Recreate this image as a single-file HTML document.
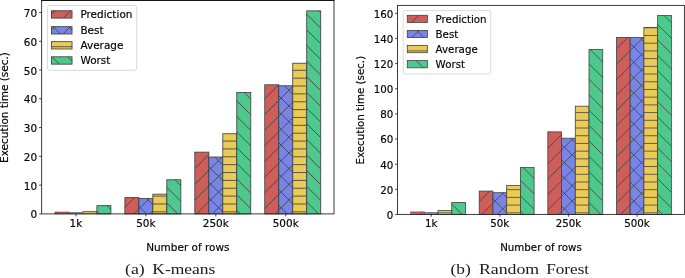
<!DOCTYPE html>
<html lang="en">
<head>
<meta charset="utf-8">
<title>Execution time: K-means and Random Forest</title>
<style>
html,body{margin:0;padding:0;background:#ffffff;}
body{width:685px;height:278px;overflow:hidden;}
svg{display:block;will-change:transform;}
</style>
</head>
<body>
<svg width="685" height="278" viewBox="0 0 685 278">
<rect x="0" y="0" width="685" height="278" fill="#ffffff"/>
<!-- (a) K-means -->
<g>
<rect x="54.94" y="212" width="13.99" height="1.9" fill="#cd5e59"/>
<path d="M55.59 213.9L57.49 212" fill="none" stroke="#3f3f3f" stroke-width="0.5"/>
<rect x="54.94" y="212" width="13.99" height="1.9" fill="none" stroke="#3f3f3f" stroke-width="0.5"/>
<rect x="68.93" y="212.58" width="13.99" height="1.32" fill="#7985e6"/>
<path d="M71.26 213.9L72.58 212.58M82.58 212.58L82.91 212.91" fill="none" stroke="#3f3f3f" stroke-width="0.5"/>
<rect x="68.93" y="212.58" width="13.99" height="1.32" fill="none" stroke="#3f3f3f" stroke-width="0.5"/>
<rect x="82.91" y="211.17" width="13.99" height="2.73" fill="#ebcb58"/>
<path d="M82.91 211.85L96.9 211.85" fill="none" stroke="#3f3f3f" stroke-width="0.5"/>
<rect x="82.91" y="211.17" width="13.99" height="2.73" fill="none" stroke="#3f3f3f" stroke-width="0.5"/>
<rect x="96.9" y="205.67" width="13.99" height="8.23" fill="#4ec88c"/>
<path d="M106.97 205.67L110.89 209.59M96.9 211.25L99.55 213.9" fill="none" stroke="#3f3f3f" stroke-width="0.84"/>
<rect x="96.9" y="205.67" width="13.99" height="8.23" fill="none" stroke="#3f3f3f" stroke-width="0.84"/>
<rect x="124.88" y="197.61" width="13.99" height="16.29" fill="#cd5e59"/>
<path d="M124.88 207.29L134.56 197.61M133.94 213.9L138.87 208.97" fill="none" stroke="#3f3f3f" stroke-width="0.84"/>
<rect x="124.88" y="197.61" width="13.99" height="16.29" fill="none" stroke="#3f3f3f" stroke-width="0.84"/>
<rect x="138.87" y="198.47" width="13.99" height="15.43" fill="#7985e6"/>
<path d="M138.87 208.97L149.37 198.47M149.61 213.9L152.85 210.66M146.72 198.47L152.85 204.6M138.87 206.27L146.5 213.9" fill="none" stroke="#3f3f3f" stroke-width="0.84"/>
<rect x="138.87" y="198.47" width="13.99" height="15.43" fill="none" stroke="#3f3f3f" stroke-width="0.84"/>
<rect x="152.85" y="194.16" width="13.99" height="19.74" fill="#ebcb58"/>
<path d="M152.85 196.12L166.84 196.12M152.85 203.99L166.84 203.99M152.85 211.85L166.84 211.85" fill="none" stroke="#3f3f3f" stroke-width="0.84"/>
<rect x="152.85" y="194.16" width="13.99" height="19.74" fill="none" stroke="#3f3f3f" stroke-width="0.84"/>
<rect x="166.84" y="179.77" width="13.99" height="34.13" fill="#4ec88c"/>
<path d="M174.97 179.77L180.83 185.63M166.84 187.29L180.83 201.28M166.84 202.94L177.8 213.9" fill="none" stroke="#3f3f3f" stroke-width="0.84"/>
<rect x="166.84" y="179.77" width="13.99" height="34.13" fill="none" stroke="#3f3f3f" stroke-width="0.84"/>
<rect x="194.82" y="152.14" width="13.99" height="61.76" fill="#cd5e59"/>
<path d="M194.82 153.02L195.7 152.14M194.82 168.69L208.81 154.7M194.82 184.36L208.81 170.37M194.82 200.03L208.81 186.04M196.62 213.9L208.81 201.71" fill="none" stroke="#3f3f3f" stroke-width="0.84"/>
<rect x="194.82" y="152.14" width="13.99" height="61.76" fill="none" stroke="#3f3f3f" stroke-width="0.84"/>
<rect x="208.81" y="157.03" width="13.99" height="56.87" fill="#7985e6"/>
<path d="M208.81 170.37L222.15 157.03M208.81 186.04L222.8 172.05M208.81 201.71L222.8 187.72M212.29 213.9L222.8 203.39M214.83 157.03L222.8 165M208.81 166.66L222.8 180.65M208.81 182.31L222.8 196.3M208.81 197.96L222.8 211.95M208.81 213.61L209.1 213.9" fill="none" stroke="#3f3f3f" stroke-width="0.84"/>
<rect x="208.81" y="157.03" width="13.99" height="56.87" fill="none" stroke="#3f3f3f" stroke-width="0.84"/>
<rect x="222.8" y="133.72" width="13.99" height="80.18" fill="#ebcb58"/>
<path d="M222.8 141.08L236.78 141.08M222.8 148.94L236.78 148.94M222.8 156.8L236.78 156.8M222.8 164.67L236.78 164.67M222.8 172.53L236.78 172.53M222.8 180.4L236.78 180.4M222.8 188.26L236.78 188.26M222.8 196.12L236.78 196.12M222.8 203.99L236.78 203.99M222.8 211.85L236.78 211.85" fill="none" stroke="#3f3f3f" stroke-width="0.84"/>
<rect x="222.8" y="133.72" width="13.99" height="80.18" fill="none" stroke="#3f3f3f" stroke-width="0.84"/>
<rect x="236.78" y="92.57" width="13.99" height="121.33" fill="#4ec88c"/>
<path d="M244.27 92.57L250.77 99.07M236.78 100.73L250.77 114.72M236.78 116.38L250.77 130.37M236.78 132.03L250.77 146.02M236.78 147.68L250.77 161.67M236.78 163.33L250.77 177.32M236.78 178.98L250.77 192.97M236.78 194.63L250.77 208.62M236.78 210.28L240.4 213.9" fill="none" stroke="#3f3f3f" stroke-width="0.84"/>
<rect x="236.78" y="92.57" width="13.99" height="121.33" fill="none" stroke="#3f3f3f" stroke-width="0.84"/>
<rect x="264.76" y="84.8" width="13.99" height="129.1" fill="#cd5e59"/>
<path d="M264.76 98.75L278.71 84.8M264.76 114.42L278.75 100.43M264.76 130.09L278.75 116.1M264.76 145.76L278.75 131.77M264.76 161.43L278.75 147.44M264.76 177.1L278.75 163.11M264.76 192.77L278.75 178.78M264.76 208.44L278.75 194.45M274.97 213.9L278.75 210.12" fill="none" stroke="#3f3f3f" stroke-width="0.84"/>
<rect x="264.76" y="84.8" width="13.99" height="129.1" fill="none" stroke="#3f3f3f" stroke-width="0.84"/>
<rect x="278.75" y="85.78" width="13.99" height="128.12" fill="#7985e6"/>
<path d="M278.75 100.43L292.74 86.44M278.75 116.1L292.74 102.11M278.75 131.77L292.74 117.78M278.75 147.44L292.74 133.45M278.75 163.11L292.74 149.12M278.75 178.78L292.74 164.79M278.75 194.45L292.74 180.46M278.75 210.12L292.74 196.13M290.64 213.9L292.74 211.8M284.43 85.78L292.74 94.09M278.75 95.75L292.74 109.74M278.75 111.4L292.74 125.39M278.75 127.05L292.74 141.04M278.75 142.7L292.74 156.69M278.75 158.35L292.74 172.34M278.75 174L292.74 187.99M278.75 189.65L292.74 203.64M278.75 205.3L287.35 213.9" fill="none" stroke="#3f3f3f" stroke-width="0.84"/>
<rect x="278.75" y="85.78" width="13.99" height="128.12" fill="none" stroke="#3f3f3f" stroke-width="0.84"/>
<rect x="292.74" y="63.22" width="13.99" height="150.68" fill="#ebcb58"/>
<path d="M292.74 70.3L306.72 70.3M292.74 78.16L306.72 78.16M292.74 86.03L306.72 86.03M292.74 93.89L306.72 93.89M292.74 101.76L306.72 101.76M292.74 109.62L306.72 109.62M292.74 117.48L306.72 117.48M292.74 125.35L306.72 125.35M292.74 133.21L306.72 133.21M292.74 141.08L306.72 141.08M292.74 148.94L306.72 148.94M292.74 156.8L306.72 156.8M292.74 164.67L306.72 164.67M292.74 172.53L306.72 172.53M292.74 180.4L306.72 180.4M292.74 188.26L306.72 188.26M292.74 196.12L306.72 196.12M292.74 203.99L306.72 203.99M292.74 211.85L306.72 211.85" fill="none" stroke="#3f3f3f" stroke-width="0.84"/>
<rect x="292.74" y="63.22" width="13.99" height="150.68" fill="none" stroke="#3f3f3f" stroke-width="0.84"/>
<rect x="306.72" y="10.85" width="13.99" height="203.05" fill="#4ec88c"/>
<path d="M319.05 10.85L320.71 12.51M306.72 14.17L320.71 28.16M306.72 29.82L320.71 43.81M306.72 45.47L320.71 59.46M306.72 61.12L320.71 75.11M306.72 76.77L320.71 90.76M306.72 92.42L320.71 106.41M306.72 108.07L320.71 122.06M306.72 123.72L320.71 137.71M306.72 139.37L320.71 153.36M306.72 155.02L320.71 169.01M306.72 170.67L320.71 184.66M306.72 186.32L320.71 200.31M306.72 201.97L318.65 213.9" fill="none" stroke="#3f3f3f" stroke-width="0.84"/>
<rect x="306.72" y="10.85" width="13.99" height="203.05" fill="none" stroke="#3f3f3f" stroke-width="0.84"/>
<path d="M39.15 213.9H41.65M39.15 185.12H41.65M39.15 156.35H41.65M39.15 127.57H41.65M39.15 98.79H41.65M39.15 70.02H41.65M39.15 41.24H41.65M39.15 12.46H41.65M75.92 213.9V216.4M145.86 213.9V216.4M215.8 213.9V216.4M285.74 213.9V216.4" stroke="#222" stroke-width="0.85" fill="none"/>
<rect x="41.65" y="0.3" width="292.35" height="213.6" fill="none" stroke="#262626" stroke-width="0.9"/>
<path d="M41.25 0.45H334.4" stroke="#111" stroke-width="1" fill="none"/>
<g font-family="'DejaVu Sans','Liberation Sans',sans-serif" font-size="10.48" fill="#000" stroke="#000" stroke-width="0.16">
<text x="37.05" y="218.48" text-anchor="end">0</text>
<text x="37.05" y="189.7" text-anchor="end">10</text>
<text x="37.05" y="160.92" text-anchor="end">20</text>
<text x="37.05" y="132.14" text-anchor="end">30</text>
<text x="37.05" y="103.37" text-anchor="end">40</text>
<text x="37.05" y="74.59" text-anchor="end">50</text>
<text x="37.05" y="45.81" text-anchor="end">60</text>
<text x="37.05" y="17.04" text-anchor="end">70</text>
<text x="75.92" y="226.6" text-anchor="middle">1k</text>
<text x="145.86" y="226.6" text-anchor="middle">50k</text>
<text x="215.8" y="226.6" text-anchor="middle">250k</text>
<text x="285.74" y="226.6" text-anchor="middle">500k</text>
<text x="187.82" y="251" text-anchor="middle">Number of rows</text>
<text transform="translate(7.7 107.55) rotate(-90)" text-anchor="middle">Execution time (sec.)</text>
</g>
<rect x="47.39" y="5.54" width="89.29" height="64.75" rx="2.1" fill="#fff" fill-opacity="0.8" stroke="#d2d2d2" stroke-width="0.84"/>
<rect x="51.53" y="10.76" width="20.51" height="7.34" fill="#cd5e59"/>
<path d="M51.53 14.25L55.02 10.76M63.35 18.1L70.69 10.76" fill="none" stroke="#3f3f3f" stroke-width="0.84"/>
<rect x="51.53" y="10.76" width="20.51" height="7.34" fill="none" stroke="#3f3f3f" stroke-width="0.84"/>
<rect x="51.53" y="26.66" width="20.51" height="7.34" fill="#7985e6"/>
<path d="M51.53 29.92L54.79 26.66M63.12 34L70.46 26.66M68.81 26.66L72.04 29.89M53.16 26.66L60.5 34" fill="none" stroke="#3f3f3f" stroke-width="0.84"/>
<rect x="51.53" y="26.66" width="20.51" height="7.34" fill="none" stroke="#3f3f3f" stroke-width="0.84"/>
<rect x="51.53" y="41.66" width="20.51" height="7.34" fill="#ebcb58"/>
<path d="M51.53 46.71L72.04 46.71" fill="none" stroke="#3f3f3f" stroke-width="0.84"/>
<rect x="51.53" y="41.66" width="20.51" height="7.34" fill="none" stroke="#3f3f3f" stroke-width="0.84"/>
<rect x="51.53" y="56.81" width="20.51" height="7.34" fill="#4ec88c"/>
<path d="M67.66 56.81L72.04 61.19M52.01 56.81L59.35 64.15" fill="none" stroke="#3f3f3f" stroke-width="0.84"/>
<rect x="51.53" y="56.81" width="20.51" height="7.34" fill="none" stroke="#3f3f3f" stroke-width="0.84"/>
<g font-family="'DejaVu Sans','Liberation Sans',sans-serif" font-size="10.48" fill="#000" stroke="#000" stroke-width="0.16">
<text x="80.43" y="18.1">Prediction</text>
<text x="80.43" y="34">Best</text>
<text x="80.43" y="49">Average</text>
<text x="80.43" y="64.15">Worst</text>
</g>
</g>
<!-- (b) Random Forest -->
<g>
<rect x="410.59" y="211.91" width="13.72" height="2.54" fill="#cd5e59"/>
<path d="M420.07 214.45L422.61 211.91" fill="none" stroke="#3f3f3f" stroke-width="0.47"/>
<rect x="410.59" y="211.91" width="13.72" height="2.54" fill="none" stroke="#3f3f3f" stroke-width="0.47"/>
<rect x="424.31" y="212.54" width="13.72" height="1.91" fill="#7985e6"/>
<path d="M435.49 214.45L437.4 212.54M429.34 212.54L431.25 214.45" fill="none" stroke="#3f3f3f" stroke-width="0.47"/>
<rect x="424.31" y="212.54" width="13.72" height="1.91" fill="none" stroke="#3f3f3f" stroke-width="0.47"/>
<rect x="438.04" y="210.53" width="13.72" height="3.92" fill="#ebcb58"/>
<path d="M438.04 212.82L451.76 212.82" fill="none" stroke="#3f3f3f" stroke-width="0.78"/>
<rect x="438.04" y="210.53" width="13.72" height="3.92" fill="none" stroke="#3f3f3f" stroke-width="0.78"/>
<rect x="451.76" y="202.5" width="13.72" height="11.95" fill="#4ec88c"/>
<path d="M451.76 204.12L462.09 214.45" fill="none" stroke="#3f3f3f" stroke-width="0.78"/>
<rect x="451.76" y="202.5" width="13.72" height="11.95" fill="none" stroke="#3f3f3f" stroke-width="0.78"/>
<rect x="479.21" y="191.07" width="13.72" height="23.38" fill="#cd5e59"/>
<path d="M479.21 201.57L489.71 191.07M481.75 214.45L492.94 203.26" fill="none" stroke="#3f3f3f" stroke-width="0.78"/>
<rect x="479.21" y="191.07" width="13.72" height="23.38" fill="none" stroke="#3f3f3f" stroke-width="0.78"/>
<rect x="492.94" y="192.7" width="13.72" height="21.75" fill="#7985e6"/>
<path d="M492.94 203.26L503.5 192.7M497.17 214.45L506.66 204.96M502.02 192.7L506.66 197.34M492.94 199.04L506.66 212.76" fill="none" stroke="#3f3f3f" stroke-width="0.78"/>
<rect x="492.94" y="192.7" width="13.72" height="21.75" fill="none" stroke="#3f3f3f" stroke-width="0.78"/>
<rect x="506.66" y="185.55" width="13.72" height="28.9" fill="#ebcb58"/>
<path d="M506.66 189.69L520.39 189.69M506.66 197.4L520.39 197.4M506.66 205.11L520.39 205.11M506.66 212.82L520.39 212.82" fill="none" stroke="#3f3f3f" stroke-width="0.78"/>
<rect x="506.66" y="185.55" width="13.72" height="28.9" fill="none" stroke="#3f3f3f" stroke-width="0.78"/>
<rect x="520.39" y="167.59" width="13.72" height="46.86" fill="#4ec88c"/>
<path d="M523.17 167.59L534.11 178.53M520.39 180.23L534.11 193.95M520.39 195.65L534.11 209.37M520.39 211.07L523.77 214.45" fill="none" stroke="#3f3f3f" stroke-width="0.78"/>
<rect x="520.39" y="167.59" width="13.72" height="46.86" fill="none" stroke="#3f3f3f" stroke-width="0.78"/>
<rect x="547.84" y="131.87" width="13.72" height="82.58" fill="#cd5e59"/>
<path d="M547.84 132.94L548.91 131.87M547.84 148.36L561.56 134.64M547.84 163.78L561.56 150.06M547.84 179.2L561.56 165.48M547.84 194.62L561.56 180.9M547.84 210.04L561.56 196.32M558.85 214.45L561.56 211.74" fill="none" stroke="#3f3f3f" stroke-width="0.78"/>
<rect x="547.84" y="131.87" width="13.72" height="82.58" fill="none" stroke="#3f3f3f" stroke-width="0.78"/>
<rect x="561.56" y="138.21" width="13.72" height="76.24" fill="#7985e6"/>
<path d="M561.56 150.06L573.41 138.21M561.56 165.48L575.29 151.75M561.56 180.9L575.29 167.17M561.56 196.32L575.29 182.59M561.56 211.74L575.29 198.01M574.27 214.45L575.29 213.43M570.89 138.21L575.29 142.61M561.56 144.3L575.29 158.03M561.56 159.72L575.29 173.45M561.56 175.14L575.29 188.87M561.56 190.56L575.29 204.29M561.56 205.98L570.03 214.45" fill="none" stroke="#3f3f3f" stroke-width="0.78"/>
<rect x="561.56" y="138.21" width="13.72" height="76.24" fill="none" stroke="#3f3f3f" stroke-width="0.78"/>
<rect x="575.29" y="106.2" width="13.72" height="108.25" fill="#ebcb58"/>
<path d="M575.29 112.59L589.01 112.59M575.29 120.3L589.01 120.3M575.29 128.01L589.01 128.01M575.29 135.72L589.01 135.72M575.29 143.43L589.01 143.43M575.29 151.14L589.01 151.14M575.29 158.85L589.01 158.85M575.29 166.56L589.01 166.56M575.29 174.27L589.01 174.27M575.29 181.98L589.01 181.98M575.29 189.69L589.01 189.69M575.29 197.4L589.01 197.4M575.29 205.11L589.01 205.11M575.29 212.82L589.01 212.82" fill="none" stroke="#3f3f3f" stroke-width="0.78"/>
<rect x="575.29" y="106.2" width="13.72" height="108.25" fill="none" stroke="#3f3f3f" stroke-width="0.78"/>
<rect x="589.01" y="49.51" width="13.72" height="164.94" fill="#4ec88c"/>
<path d="M590.13 49.51L602.74 62.12M589.01 63.81L602.74 77.54M589.01 79.23L602.74 92.96M589.01 94.65L602.74 108.38M589.01 110.07L602.74 123.8M589.01 125.49L602.74 139.22M589.01 140.91L602.74 154.64M589.01 156.33L602.74 170.06M589.01 171.75L602.74 185.48M589.01 187.17L602.74 200.9M589.01 202.59L600.87 214.45" fill="none" stroke="#3f3f3f" stroke-width="0.78"/>
<rect x="589.01" y="49.51" width="13.72" height="164.94" fill="none" stroke="#3f3f3f" stroke-width="0.78"/>
<rect x="616.46" y="37.39" width="13.72" height="177.06" fill="#cd5e59"/>
<path d="M616.46 48.9L627.97 37.39M616.46 64.32L630.19 50.59M616.46 79.74L630.19 66.01M616.46 95.16L630.19 81.43M616.46 110.58L630.19 96.85M616.46 126L630.19 112.27M616.46 141.42L630.19 127.69M616.46 156.84L630.19 143.11M616.46 172.26L630.19 158.53M616.46 187.68L630.19 173.95M616.46 203.1L630.19 189.37M620.53 214.45L630.19 204.79" fill="none" stroke="#3f3f3f" stroke-width="0.78"/>
<rect x="616.46" y="37.39" width="13.72" height="177.06" fill="none" stroke="#3f3f3f" stroke-width="0.78"/>
<rect x="630.19" y="37.51" width="13.72" height="176.94" fill="#7985e6"/>
<path d="M630.19 50.59L643.27 37.51M630.19 66.01L643.91 52.29M630.19 81.43L643.91 67.71M630.19 96.85L643.91 83.13M630.19 112.27L643.91 98.55M630.19 127.69L643.91 113.97M630.19 143.11L643.91 129.39M630.19 158.53L643.91 144.81M630.19 173.95L643.91 160.23M630.19 189.37L643.91 175.65M630.19 204.79L643.91 191.07M635.95 214.45L643.91 206.49M639.81 37.51L643.91 41.61M630.19 43.31L643.91 57.03M630.19 58.73L643.91 72.45M630.19 74.15L643.91 87.87M630.19 89.57L643.91 103.29M630.19 104.99L643.91 118.71M630.19 120.41L643.91 134.13M630.19 135.83L643.91 149.55M630.19 151.25L643.91 164.97M630.19 166.67L643.91 180.39M630.19 182.09L643.91 195.81M630.19 197.51L643.91 211.23M630.19 212.93L631.71 214.45" fill="none" stroke="#3f3f3f" stroke-width="0.78"/>
<rect x="630.19" y="37.51" width="13.72" height="176.94" fill="none" stroke="#3f3f3f" stroke-width="0.78"/>
<rect x="643.91" y="27.47" width="13.72" height="186.98" fill="#ebcb58"/>
<path d="M643.91 27.78L657.64 27.78M643.91 35.49L657.64 35.49M643.91 43.2L657.64 43.2M643.91 50.91L657.64 50.91M643.91 58.62L657.64 58.62M643.91 66.33L657.64 66.33M643.91 74.04L657.64 74.04M643.91 81.75L657.64 81.75M643.91 89.46L657.64 89.46M643.91 97.17L657.64 97.17M643.91 104.88L657.64 104.88M643.91 112.59L657.64 112.59M643.91 120.3L657.64 120.3M643.91 128.01L657.64 128.01M643.91 135.72L657.64 135.72M643.91 143.43L657.64 143.43M643.91 151.14L657.64 151.14M643.91 158.85L657.64 158.85M643.91 166.56L657.64 166.56M643.91 174.27L657.64 174.27M643.91 181.98L657.64 181.98M643.91 189.69L657.64 189.69M643.91 197.4L657.64 197.4M643.91 205.11L657.64 205.11M643.91 212.82L657.64 212.82" fill="none" stroke="#3f3f3f" stroke-width="0.78"/>
<rect x="643.91" y="27.47" width="13.72" height="186.98" fill="none" stroke="#3f3f3f" stroke-width="0.78"/>
<rect x="657.64" y="15.42" width="13.72" height="199.03" fill="#4ec88c"/>
<path d="M663.98 15.42L671.36 22.8M657.64 24.5L671.36 38.22M657.64 39.92L671.36 53.64M657.64 55.34L671.36 69.06M657.64 70.76L671.36 84.48M657.64 86.18L671.36 99.9M657.64 101.6L671.36 115.32M657.64 117.02L671.36 130.74M657.64 132.44L671.36 146.16M657.64 147.86L671.36 161.58M657.64 163.28L671.36 177M657.64 178.7L671.36 192.42M657.64 194.12L671.36 207.84M657.64 209.54L662.55 214.45" fill="none" stroke="#3f3f3f" stroke-width="0.78"/>
<rect x="657.64" y="15.42" width="13.72" height="199.03" fill="none" stroke="#3f3f3f" stroke-width="0.78"/>
<path d="M395.15 214.45H397.55M395.15 189.31H397.55M395.15 164.17H397.55M395.15 139.03H397.55M395.15 113.89H397.55M395.15 88.75H397.55M395.15 63.61H397.55M395.15 38.47H397.55M395.15 13.33H397.55M431.18 214.4V216.8M499.8 214.4V216.8M568.42 214.4V216.8M637.05 214.4V216.8" stroke="#222" stroke-width="0.85" fill="none"/>
<rect x="397.55" y="5.4" width="286.85" height="209" fill="none" stroke="#262626" stroke-width="0.9"/>
<g font-family="'DejaVu Sans','Liberation Sans',sans-serif" font-size="10.28" fill="#000" stroke="#000" stroke-width="0.16">
<text x="393.35" y="218.9" text-anchor="end">0</text>
<text x="393.35" y="193.76" text-anchor="end">20</text>
<text x="393.35" y="168.62" text-anchor="end">40</text>
<text x="393.35" y="143.48" text-anchor="end">60</text>
<text x="393.35" y="118.34" text-anchor="end">80</text>
<text x="393.35" y="93.2" text-anchor="end">100</text>
<text x="393.35" y="68.06" text-anchor="end">120</text>
<text x="393.35" y="42.92" text-anchor="end">140</text>
<text x="393.35" y="17.78" text-anchor="end">160</text>
<text x="431.18" y="227.1" text-anchor="middle">1k</text>
<text x="499.8" y="227.1" text-anchor="middle">50k</text>
<text x="568.42" y="227.1" text-anchor="middle">250k</text>
<text x="637.05" y="227.1" text-anchor="middle">500k</text>
<text x="540.98" y="250.6" text-anchor="middle">Number of rows</text>
<text transform="translate(363.7 110.2) rotate(-90)" text-anchor="middle">Execution time (sec.)</text>
</g>
<rect x="403.19" y="10.54" width="87.58" height="63.55" rx="2.06" fill="#fff" fill-opacity="0.8" stroke="#d2d2d2" stroke-width="0.78"/>
<rect x="407.25" y="15.3" width="20.11" height="7.2" fill="#cd5e59"/>
<path d="M411.56 22.5L418.76 15.3M426.98 22.5L427.36 22.12" fill="none" stroke="#3f3f3f" stroke-width="0.78"/>
<rect x="407.25" y="15.3" width="20.11" height="7.2" fill="none" stroke="#3f3f3f" stroke-width="0.78"/>
<rect x="407.25" y="30.4" width="20.11" height="7.2" fill="#7985e6"/>
<path d="M411.88 37.6L419.08 30.4M427.3 37.6L427.36 37.54M416.82 30.4L424.02 37.6M407.25 36.25L408.6 37.6" fill="none" stroke="#3f3f3f" stroke-width="0.78"/>
<rect x="407.25" y="30.4" width="20.11" height="7.2" fill="none" stroke="#3f3f3f" stroke-width="0.78"/>
<rect x="407.25" y="45.5" width="20.11" height="7.2" fill="#ebcb58"/>
<path d="M407.25 50.91L427.36 50.91" fill="none" stroke="#3f3f3f" stroke-width="0.78"/>
<rect x="407.25" y="45.5" width="20.11" height="7.2" fill="none" stroke="#3f3f3f" stroke-width="0.78"/>
<rect x="407.25" y="60.6" width="20.11" height="7.2" fill="#4ec88c"/>
<path d="M416.18 60.6L423.38 67.8M407.25 67.09L407.96 67.8" fill="none" stroke="#3f3f3f" stroke-width="0.78"/>
<rect x="407.25" y="60.6" width="20.11" height="7.2" fill="none" stroke="#3f3f3f" stroke-width="0.78"/>
<g font-family="'DejaVu Sans','Liberation Sans',sans-serif" font-size="10.28" fill="#000" stroke="#000" stroke-width="0.16">
<text x="435.59" y="22.5">Prediction</text>
<text x="435.59" y="37.6">Best</text>
<text x="435.59" y="52.7">Average</text>
<text x="435.59" y="67.8">Worst</text>
</g>
</g>
<!-- captions -->
<g font-family="'Liberation Serif','DejaVu Serif',serif" font-size="15.3" fill="#1a1a1a">
<text x="125" y="273.6" textLength="19.7" lengthAdjust="spacingAndGlyphs">(a)</text>
<text x="152.3" y="273.6" textLength="63.1" lengthAdjust="spacingAndGlyphs">K-means</text>
<text x="450.5" y="273.6" textLength="20.3" lengthAdjust="spacingAndGlyphs">(b)</text>
<text x="478.9" y="273.6" textLength="60.3" lengthAdjust="spacingAndGlyphs">Random</text>
<text x="546.2" y="273.6" textLength="42.9" lengthAdjust="spacingAndGlyphs">Forest</text>
</g>
</svg>
</body>
</html>
